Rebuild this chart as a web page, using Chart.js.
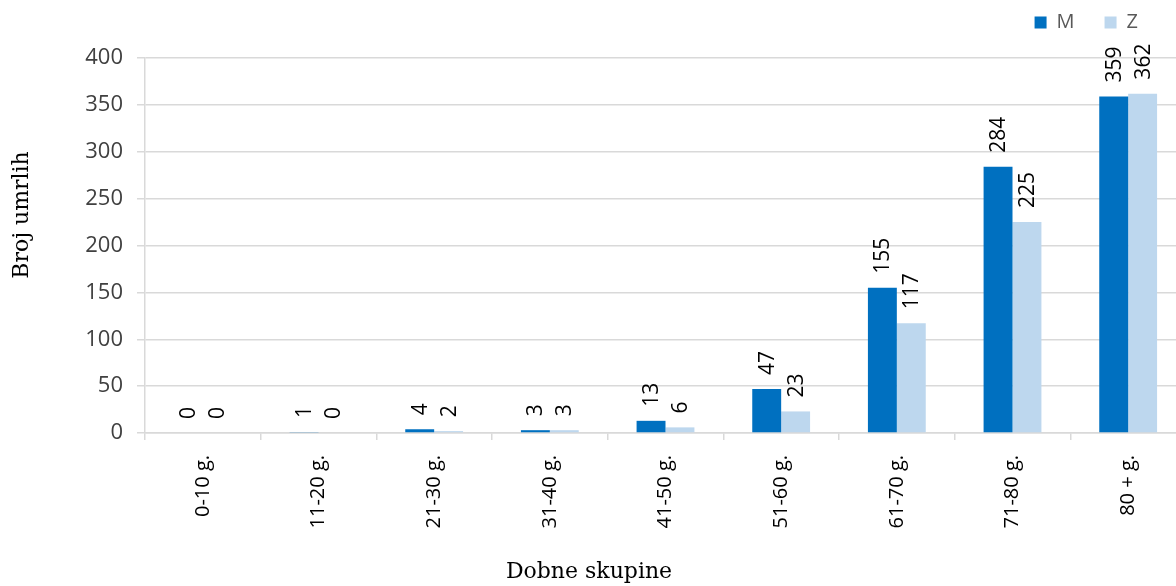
<!DOCTYPE html>
<html>
<head>
<meta charset="utf-8">
<script src="https://cdn.jsdelivr.net/npm/chart.js@4.4.1/dist/chart.umd.min.js"></script>
<style>
  html, body { margin: 0; padding: 0; background: #fff; overflow: hidden; }
  #wrap { position: relative; width: 1190px; height: 586px; }
</style>
</head>
<body>
<div id="wrap"><canvas id="deaths-chart"></canvas></div>
<script>
const ageGroups = ['0-10 g.', '11-20 g.', '21-30 g.', '31-40 g.', '41-50 g.', '51-60 g.', '61-70 g.', '71-80 g.', '80 + g.'];
const male = [0, 1, 4, 3, 13, 47, 155, 284, 359];
const female = [0, 0, 2, 3, 6, 23, 117, 225, 362];
const yTicks = [0, 50, 100, 150, 200, 250, 300, 350, 400];
const seriesNames = ['M', 'Z'];
const xTitle = 'Dobne skupine';
const yTitle = 'Broj umrlih';

// rotated value above each bar
const barValueLabels = {
    id: 'barValueLabels',
    afterDatasetsDraw(chart) {
        const ctx = chart.ctx;
        ctx.save();
        ctx.font = '21px "Open Sans"';
        ctx.fillStyle = '#000';
        ctx.textAlign = 'left';
        ctx.textBaseline = 'middle';
        chart.data.datasets.forEach((ds, i) => {
            chart.getDatasetMeta(i).data.forEach((bar, j) => {
                ctx.save();
                ctx.translate(bar.x, bar.y - 14);
                ctx.rotate(-Math.PI / 2);
                ctx.fillText(String(ds.data[j]), 0, 1);
                ctx.restore();
            });
        });
        ctx.restore();
    }
};

// serif axis titles, placed like in the source picture
const axisTitles = {
    id: 'axisTitles',
    afterDraw(chart) {
        const ctx = chart.ctx;
        const area = chart.chartArea;
        ctx.save();
        ctx.font = '22px "DejaVu Serif"';
        ctx.fillStyle = '#000';
        ctx.textAlign = 'center';
        ctx.textBaseline = 'middle';
        ctx.fillText(xTitle, area.left + 444, chart.height - 14);
        ctx.translate(22, area.top + 157);
        ctx.rotate(-Math.PI / 2);
        ctx.fillText(yTitle, 0, 0);
        ctx.restore();
    }
};

// pull the legend a little in from the right edge
const legendShift = {
    id: 'legendShift',
    afterLayout(chart) {
        if (chart.legend) chart.legend.right = chart.chartArea.right - 18;
    }
};

const ctx = document.getElementById('deaths-chart').getContext('2d');
new Chart(ctx, {
    type: 'bar',
    data: {
        labels: ageGroups,
        datasets: [
            { label: seriesNames[0], data: male, backgroundColor: '#0070C0', borderWidth: 0 },
            { label: seriesNames[1], data: female, backgroundColor: '#BDD7EE', borderWidth: 0 }
        ]
    },
    options: {
        responsive: true,
        maintainAspectRatio: false,
        animation: false,
        layout: { padding: { top: -17.5, right: 4, left: 0, bottom: 0 } },
        datasets: { bar: { categoryPercentage: 0.5, barPercentage: 1 } },
        plugins: {
            legend: {
                position: 'top',
                align: 'end',
                labels: {
                    boxWidth: 12,
                    boxHeight: 12,
                    padding: 30,
                    color: '#595959',
                    font: { family: 'Open Sans', size: 20 }
                }
            },
            title: {
                display: true,
                text: '',
                weight: 500,
                padding: { top: 0, bottom: 5.5 },
                font: { size: 10, lineHeight: 1 }
            },
            tooltip: { enabled: false }
        },
        scales: {
            x: {
                grid: { display: true, drawOnChartArea: false, offset: true, tickLength: 7, color: '#d9d9d9', lineWidth: 1.5 },
                border: { color: '#d9d9d9', width: 1.5 },
                ticks: {
                    autoSkip: false,
                    minRotation: 90,
                    maxRotation: 90,
                    padding: 15,
                    color: '#000',
                    font: { family: 'Open Sans', size: 20 }
                },
                afterFit: (scale) => { scale.height = 153; }
            },
            y: {
                min: 0,
                max: 400,
                grid: { color: '#d9d9d9', tickLength: 8, lineWidth: 1.5 },
                border: { color: '#d9d9d9', width: 1.5 },
                ticks: {
                    padding: 14,
                    color: '#404040',
                    font: { family: 'Open Sans', size: 22 }
                },
                afterBuildTicks: (scale) => { scale.ticks = yTicks.map(v => ({ value: v })); },
                afterFit: (scale) => { scale.width = 145; }
            }
        }
    },
    plugins: [barValueLabels, axisTitles, legendShift]
});
</script>
</body>
</html>
